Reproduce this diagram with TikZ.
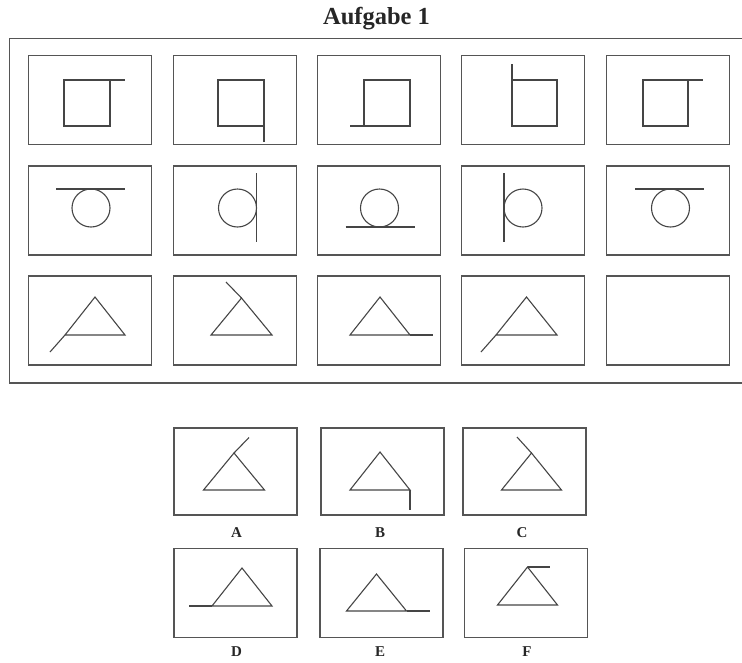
\documentclass[tikz,border=0pt]{standalone}
\usepackage{fontspec}
\setmainfont{Liberation Serif}
\definecolor{figgray}{HTML}{454545}
\definecolor{boxgray}{HTML}{555555}
\begin{document}
\begin{tikzpicture}[x=1pt,y=-1pt,
  box/.style={draw=boxgray, line width=1.2pt, minimum width=123pt, minimum height=89pt, inner sep=0pt},
  obox/.style={box, minimum height=87pt},
  fig/.style={draw=figgray, line width=1.1pt},
  lbl/.style={font=\fontsize{15}{17}\selectfont\bfseries, text=black!85, inner sep=0pt},
  ttl/.style={font=\fontsize{24.5}{28}\selectfont\bfseries, text=black!85, inner sep=0pt}]
\useasboundingbox (0,0) rectangle (742,662);
% title
\node[ttl] (title) at (376.5,18.5) {Aufgabe 1};
% outer frame (open on the right)
\draw[draw=boxgray, line width=1.2pt] (742,38.5) -- (9.5,38.5) -- (9.5,383) -- (742,383);
% grid boxes
\foreach \c/\x in {1/90,2/235,3/379,4/523,5/668}{
  \node[box] (r1c\c) at (\x,100) {};
  \node[box] (r2c\c) at (\x,210.5) {};
  \node[box] (r3c\c) at (\x,320.5) {};
}
% row 1: squares
\draw[fig] (64,80) rectangle (110,126);  \draw[fig] (110,80) -- (124.5,80);
\draw[fig] (218,80) rectangle (264,126); \draw[fig] (264,126) -- (264,142);
\draw[fig] (364,80) rectangle (410,126); \draw[fig] (364,126) -- (350,126);
\draw[fig] (512,80) rectangle (557,126); \draw[fig] (512,80) -- (512,64);
\draw[fig] (643,80) rectangle (688,126); \draw[fig] (688,80) -- (703,80);
% row 2: circles
\draw[fig] (91,208) circle[radius=19];    \draw[fig] (56,189) -- (124.5,189);
\draw[fig] (237.5,208) circle[radius=19]; \draw[fig] (256.5,173) -- (256.5,242);
\draw[fig] (379.5,208) circle[radius=19]; \draw[fig] (345.5,227) -- (415,227);
\draw[fig] (523,208) circle[radius=19];   \draw[fig] (504,173) -- (504,242);
\draw[fig] (670.5,208) circle[radius=19]; \draw[fig] (635,189) -- (704,189);
% row 3: triangles
\draw[fig] (95,297) -- (125,335) -- (65,335) -- cycle;      \draw[fig] (65,335) -- (50,352);
\draw[fig] (241.5,298) -- (272,335) -- (211,335) -- cycle;  \draw[fig] (241.5,298) -- (226,282);
\draw[fig] (380,297) -- (410,335) -- (350,335) -- cycle;    \draw[fig] (410,335) -- (433,335);
\draw[fig] (526.5,297) -- (557,335) -- (496,335) -- cycle;  \draw[fig] (496,335) -- (481,352);
% answer boxes
\node[obox] (optA) at (235.5,471.5) {};
\node[obox] (optB) at (382.5,471.5) {};
\node[obox] (optC) at (524.5,471.5) {};
\node[box] (optD) at (235.5,593) {};
\node[box] (optE) at (381.5,593) {};
\node[box] (optF) at (526,593) {};
% option figures
\draw[fig] (234,453) -- (264.5,490) -- (203.5,490) -- cycle;     \draw[fig] (234,453) -- (249,437.5);
\draw[fig] (380,452) -- (410,490) -- (350,490) -- cycle;         \draw[fig] (410,490) -- (410,509.5);
\draw[fig] (531.5,453) -- (561.5,490) -- (501.5,490) -- cycle;   \draw[fig] (531.5,453) -- (517,437);
\draw[fig] (242,568) -- (272,606) -- (212,606) -- cycle;         \draw[fig] (212,606) -- (189,606);
\draw[fig] (376.5,574) -- (406.5,611) -- (346.5,611) -- cycle;   \draw[fig] (406.5,611) -- (430,611);
\draw[fig] (527.5,567) -- (557.5,605) -- (497.5,605) -- cycle;   \draw[fig] (527.5,567) -- (550,567);
% labels
\node[lbl] (labA) at (236.5,533) {A};
\node[lbl] (labB) at (380,533) {B};
\node[lbl] (labC) at (522,533) {C};
\node[lbl] (labD) at (236.5,652) {D};
\node[lbl] (labE) at (380,652) {E};
\node[lbl] (labF) at (527,652) {F};
\end{tikzpicture}
\end{document}
